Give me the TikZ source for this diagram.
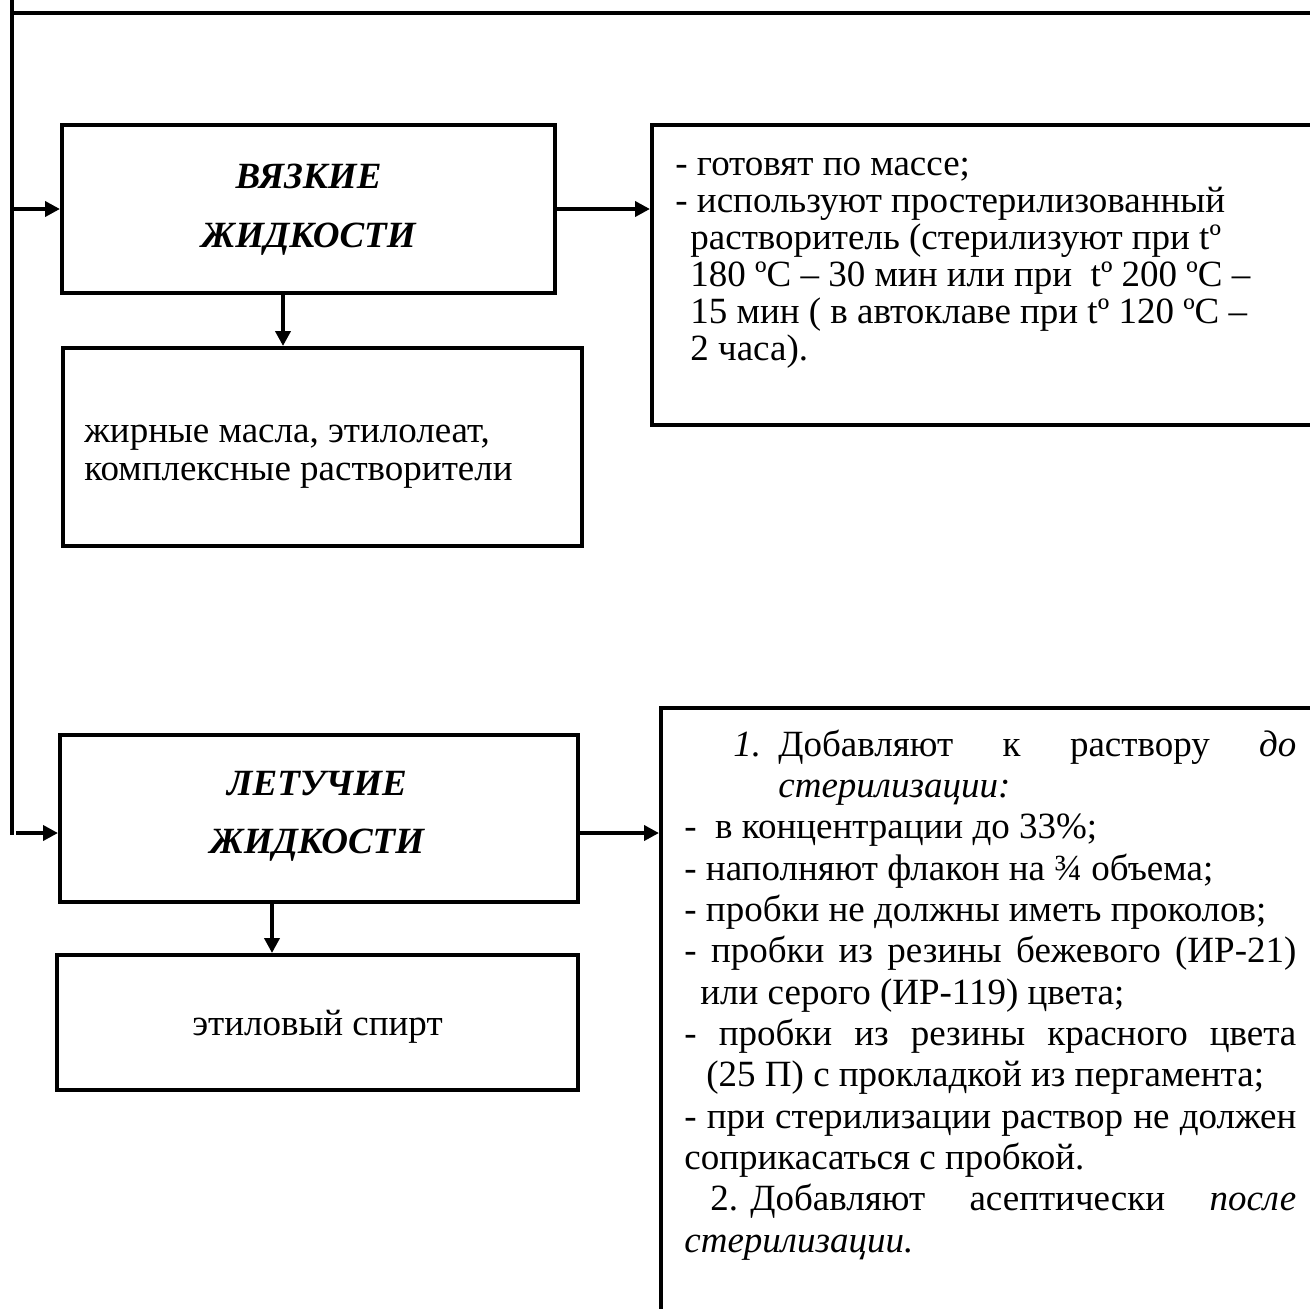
\documentclass[tikz,border=0pt]{standalone}
\usepackage{fontspec}
\setmainfont{Liberation Serif}
\usetikzlibrary{arrows.meta}
\tikzset{
  box/.style={draw, line width=2pt, inner sep=0pt, rectangle},
  arr/.style={line width=2pt, -{Triangle[length=7.5pt,width=7.5pt]}},
  ln/.style={line width=2.2pt},
  txt/.style={inner sep=0pt, anchor=base west, font=\fontsize{18.5pt}{18.75pt}\selectfont},
  ctxt/.style={inner sep=0pt, anchor=base, font=\fontsize{18.5pt}{18.75pt}\selectfont\bfseries\itshape},
  ptxt/.style={inner sep=0pt, anchor=base, font=\fontsize{18.5pt}{18.75pt}\selectfont},
}
\newcommand{\jl}[2]{\makebox[#1][s]{#2}}
\begin{document}
\begin{tikzpicture}[x=0.5pt,y=-0.5pt]
\useasboundingbox (0,0) rectangle (1310,1308);
\clip (0,0) rectangle (1310,1308);
% frame lines
\coordinate (t0) at (12,0);
\coordinate (t1) at (12,835);
\coordinate (h0) at (12,13);
\coordinate (h1) at (1330,13);
\draw[ln] (t0) -- (t1);
\draw[ln] (h0) -- (h1);
% boxes
\node[box, minimum width=246.5pt, minimum height=84pt] (va) at (308.5,209) {};
\node[box, minimum width=259.5pt, minimum height=99pt] (vb) at (322.5,447) {};
\node[box, minimum width=339pt, minimum height=150pt] (vc) at (991,275) {};
\node[box, minimum width=259pt, minimum height=83.5pt] (vd) at (319,818.5) {};
\node[box, minimum width=260.5pt, minimum height=67.5pt] (ve) at (317.5,1022.5) {};
\node[box, minimum width=335pt, minimum height=316pt] (vf) at (996,1024) {};
% connectors
\coordinate (a0) at (14,209);
\coordinate (a1) at (283,0);
\coordinate (a2) at (16,833);
\coordinate (a3) at (272,0);
\draw[arr] (a0) -- (va.west);
\draw[arr] (va.south -| a1) -- (vb.north -| a1);
\draw[arr] (va.east) -- (vc.west |- va.east);
\draw[arr] (a2) -- (vd.west |- a2);
\draw[arr] (vd.east |- a2) -- (vf.west |- a2);
\draw[arr] (vd.south -| a3) -- (ve.north -| a3);
% box A / D titles
\node[ctxt] (ta1) at (308.5,188) {ВЯЗКИЕ};
\node[ctxt] (ta2) at (308.5,247) {ЖИДКОСТИ};
\node[ctxt] (td1) at (317,795) {ЛЕТУЧИЕ};
\node[ctxt] (td2) at (317,853) {ЖИДКОСТИ};
% box B
\node[txt] (tb1) at (84,442) {жирные масла, этилолеат,};
\node[txt] (tb2) at (84,480) {комплексные растворители};
% box E
\node[ptxt] (te1) at (317.5,1035) {этиловый спирт};
% box C
\node[txt] (tc1) at (675,175) {- готовят по массе;};
\node[txt] (tc2) at (675,212) {- используют простерилизованный};
\node[txt] (tc3) at (690,249) {растворитель (стерилизуют при tº};
\node[txt] (tc4) at (690,286) {180 ºС – 30 мин или при\ \ tº 200 ºС –};
\node[txt] (tc5) at (690,323) {15 мин ( в автоклаве при tº 120 ºС –};
\node[txt] (tc6) at (690,360) {2 часа).};
% box F
\node[txt] (tf0) at (733,756) {\textit{1.}};
\node[txt] (tf1) at (778,756) {\jl{259pt}{Добавляют к раствору \textit{до}}};
\node[txt] (tf2) at (778,797) {\textit{стерилизации:}};
\node[txt] (tf3) at (684,838) {-\ \ в концентрации до 33\%;};
\node[txt] (tf4) at (684,880) {- наполняют флакон на ¾ объема;};
\node[txt] (tf5) at (684,921) {- пробки не должны иметь проколов;};
\node[txt] (tf6) at (684,962) {\jl{306pt}{- пробки из резины бежевого (ИР-21)}};
\node[txt] (tf7) at (700,1004) {или серого (ИР-119) цвета;};
\node[txt] (tf8) at (684,1045) {\jl{306pt}{- пробки из резины красного цвета}};
\node[txt] (tf9) at (706,1086) {(25 П) с прокладкой из пергамента;};
\node[txt] (tf10) at (684,1128) {\jl{306pt}{- при стерилизации раствор не должен}};
\node[txt] (tf11) at (684,1169) {соприкасаться с пробкой.};
\node[txt] (tf12a) at (710,1210) {2.};
\node[txt] (tf12) at (750,1210) {\jl{273pt}{Добавляют асептически \textit{после}}};
\node[txt] (tf13) at (684,1252) {\textit{стерилизации.}};
\end{tikzpicture}
\end{document}
